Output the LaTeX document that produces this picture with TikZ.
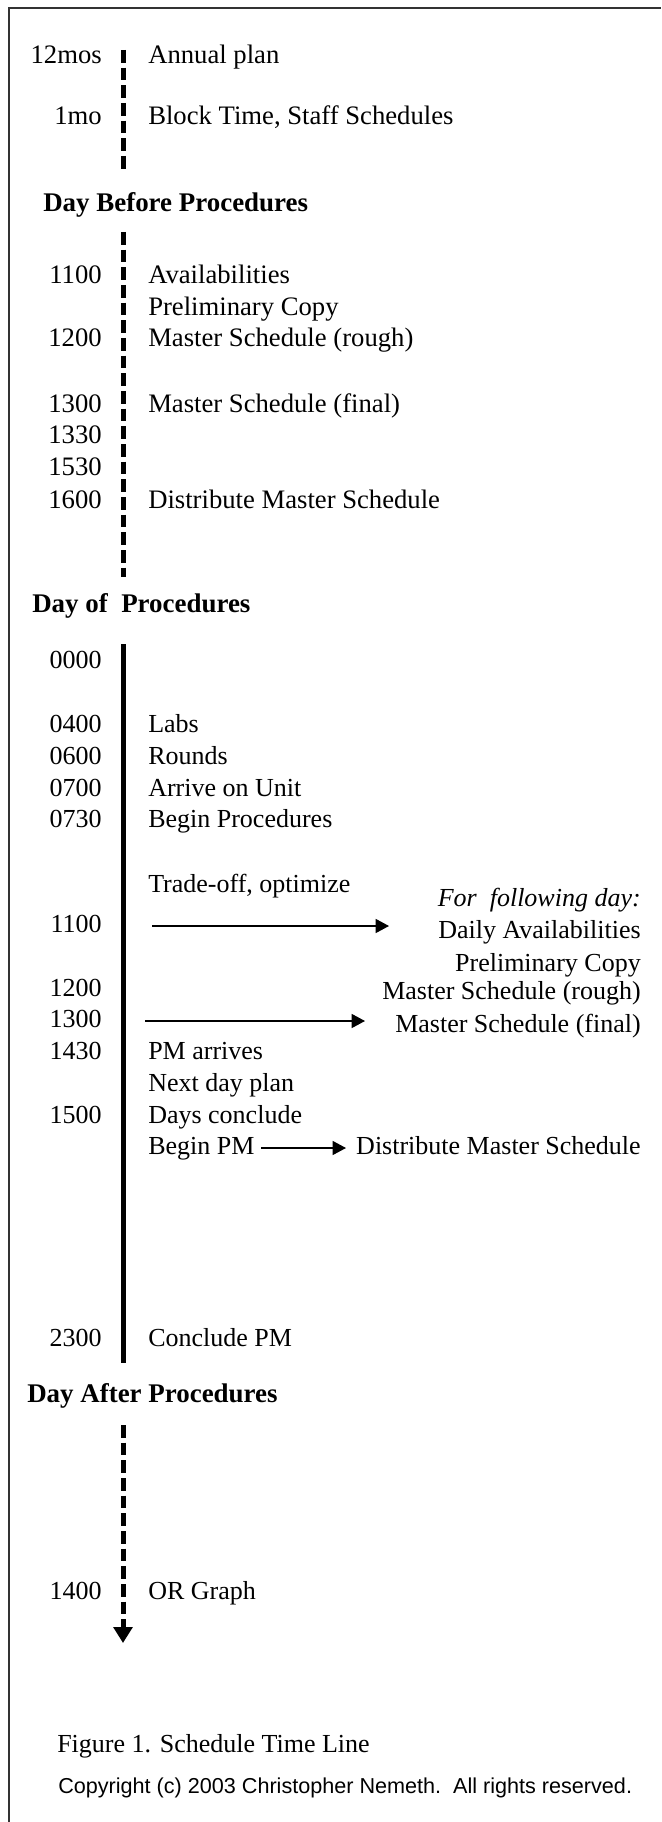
\documentclass[tikz,border=0pt]{standalone}
\usepackage{fontspec}
\setmainfont{Liberation Serif}
\setsansfont{Liberation Sans}
\usepackage{tikz}
\usetikzlibrary{arrows.meta, positioning}

\begin{document}
\begin{tikzpicture}[
      x=0.75pt, y=-0.75pt,
      every node/.style={inner sep=0pt, text height=13pt, text depth=4pt, font=\fontsize{19.5}{23}\selectfont},
      tlabel/.style={anchor=base east},
      event/.style={anchor=base west},
      later/.style={anchor=base east},
      heading/.style={anchor=base west, font=\fontsize{20.2}{24}\selectfont\bfseries},
      frame/.style={line width=1.1pt, black!80},
      dashline/.style={line width=3.75pt, dash pattern=on 9.5pt off 3.75pt},
      solidline/.style={line width=3.75pt},
      arr/.style={line width=1pt, -{Triangle[length=10pt, width=10.5pt]}}
    ]
      \useasboundingbox (0,0) rectangle (661,1822);
      \draw[frame] (9,1822) -- (9,8) -- (661,8);

      \coordinate (l1top) at (123,50);
      \coordinate (l1bot) at (123,173);
      \coordinate (l2top) at (123,232);
      \coordinate (l2bot) at (123,577);
      \coordinate (l3top) at (123,644);
      \coordinate (l3bot) at (123,1363);
      \coordinate (l4top) at (123,1425);
      \coordinate (l4bot) at (123,1643);
      \draw[dashline] (l1top) -- (l1bot);
      \draw[dashline] (l2top) -- (l2bot);
      \draw[solidline] (l3top) -- (l3bot);
      \draw[dashline, -{Triangle[length=12pt, width=14pt]}] (l4top) -- (l4bot);

      \begin{scope}[every node/.append style={font=\fontsize{20}{24}\selectfont}]
      \node[tlabel] (t12mos) at (102,64) {12mos};
      \node[event] (annual) at (148,64) {Annual plan};
      \node[tlabel] (t1mo) at (102,125) {1mo};
      \node[event] (block) at (148,125) {Block Time, Staff Schedules};

      \node[tlabel] (b1100) at (102,284) {1100};
      \node[event] (avail) at (148,284) {Availabilities};
      \node[event] (prelim) at (148,316) {Preliminary Copy};
      \node[tlabel] (b1200) at (102,347) {1200};
      \node[event] (rough) at (148,347) {Master Schedule (rough)};
      \node[tlabel] (b1300) at (102,412) {1300};
      \node[event] (final) at (148,412) {Master Schedule (final)};
      \node[tlabel] (b1330) at (102,443) {1330};
      \node[tlabel] (b1530) at (102,475) {1530};
      \node[tlabel] (b1600) at (102,508) {1600};
      \node[event] (distrib) at (148,508) {Distribute Master Schedule};
      \end{scope}
      \node[heading] (dayBefore) at (43,212) {Day Before Procedures};

      \node[heading] (dayOf) at (32,612) {Day of\ \ Procedures};
      \node[tlabel] (d0000) at (102,668) {0000};
      \node[tlabel] (d0400) at (102,732) {0400};
      \node[event] (labs) at (148,732) {Labs};
      \node[tlabel] (d0600) at (102,764) {0600};
      \node[event] (rounds) at (148,764) {Rounds};
      \node[tlabel] (d0700) at (102,796) {0700};
      \node[event] (arrive) at (148,796) {Arrive on Unit};
      \node[tlabel] (d0730) at (102,827) {0730};
      \node[event] (beginProc) at (148,827) {Begin Procedures};
      \node[event] (tradeoff) at (148,892) {Trade-off, optimize};
      \node[later] (follow) at (641,906) {\itshape For\ \ following day:};
      \node[tlabel] (d1100) at (102,932) {1100};
      \node[later] (daily) at (641,938) {Daily Availabilities};
      \node[later] (prelimNext) at (641,971) {Preliminary Copy};
      \node[tlabel] (d1200) at (102,996) {1200};
      \node[later] (roughNext) at (641,999) {Master Schedule (rough)};
      \node[tlabel] (d1300) at (102,1027) {1300};
      \node[later] (finalNext) at (641,1032) {Master Schedule (final)};
      \node[tlabel] (d1430) at (102,1059) {1430};
      \node[event] (pmArrive) at (148,1059) {PM arrives};
      \node[event] (nextDay) at (148,1091) {Next day plan};
      \node[tlabel] (d1500) at (102,1123) {1500};
      \node[event] (conclude) at (148,1123) {Days conclude};
      \node[event] (beginPM) at (148,1154) {Begin PM};
      \node[later] (distNext) at (641,1154) {Distribute Master Schedule};
      \node[tlabel] (d2300) at (102,1346) {2300};
      \node[event] (concludePM) at (148,1346) {Conclude PM};

      \coordinate (a1s) at (152,926);
      \coordinate (a1e) at (389,926);
      \coordinate (a2s) at (145,1021);
      \coordinate (a2e) at (365,1021);
      \draw[arr] (a1s) -- (a1e);
      \draw[arr] (a2s) -- (a2e);
      \draw[arr, shorten <=5pt, shorten >=7.5pt] (beginPM.east) -- (distNext.west);

      \node[heading] (dayAfter) at (27,1402) {Day After Procedures};
      \node[tlabel] (a1400) at (102,1599) {1400};
      \node[event] (orGraph) at (148,1599) {OR Graph};

      \node[event] (caption) at (57,1752) {Figure 1. Schedule Time Line};
      \node[event, font=\sffamily\fontsize{16.2}{19}\selectfont] (copyright) at (58,1793) {Copyright (c) 2003 Christopher Nemeth.\ \ All rights reserved.};
    \end{tikzpicture}
\end{document}
